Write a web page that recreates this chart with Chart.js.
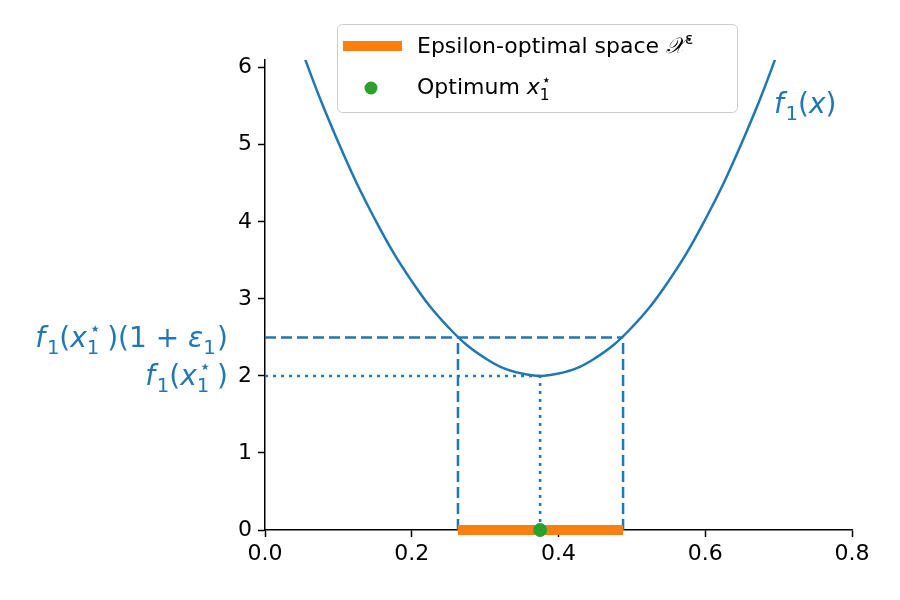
<!DOCTYPE html>
<html>
<head>
<meta charset="utf-8">
<script src="https://cdn.jsdelivr.net/npm/chart.js@4.4.0/dist/chart.umd.min.js"></script>
<style>
    body { margin: 0; background: #fff; }
    #wrap { width: 900px; height: 600px; }
</style>
</head>
<body>
<div id="wrap"><canvas id="epsChart" width="900" height="600"></canvas></div>
<script>
// values
const xTicks = [0, 0.2, 0.4, 0.6, 0.8];
const yTicks = [0, 1, 2, 3, 4, 5, 6];
const curveX = [0.05, 0.075, 0.1, 0.125, 0.15, 0.175, 0.2, 0.225, 0.25, 0.275, 0.3, 0.325, 0.35,
    0.375, 0.4, 0.425, 0.45, 0.475, 0.5, 0.525, 0.55, 0.575, 0.6, 0.625, 0.65, 0.675, 0.7];
const curveY = [6.23, 5.60, 5.03, 4.50, 4.03, 3.60, 3.23, 2.90, 2.63, 2.40, 2.23, 2.10, 2.03,
    2.00, 2.03, 2.10, 2.23, 2.40, 2.63, 2.90, 3.23, 3.60, 4.03, 4.50, 5.03, 5.60, 6.23];
const epsRange = [0.263, 0.488];
const optimum = [0.375, 2.0];
const epsLevel = 2.5;

const BLUE = '#1f77b4', ORANGE = '#ff7f0e', GREEN = '#2ca02c';
const FONT = '"DejaVu Sans", sans-serif';

function seg(points, dash) {
    return {
        type: 'line',
        data: points.map(p => ({ x: p[0], y: p[1] })),
        borderColor: BLUE,
        borderWidth: 2.5,
        borderDash: dash,
        pointRadius: 0,
        tension: 0
    };
}

function mathFont(it, size) {
    return (it ? 'italic ' : '') + size + 'px ' + FONT;
}

function partWidth(ctx, p, s) {
    let w;
    if (p.t !== undefined) {
        ctx.font = mathFont(p.it, s);
        w = ctx.measureText(p.t).width;
    } else {
        ctx.font = mathFont(false, s * 0.7);
        w = Math.max(p.sub ? ctx.measureText(p.sub).width : 0, p.sup ? ctx.measureText(p.sup).width : 0);
    }
    return w + (p.gap || 0) * s;
}

function drawMath(ctx, parts, x, y, align, s, color) {
    const total = parts.reduce((a, p) => a + partWidth(ctx, p, s), 0);
    let cx = align === 'right' ? x - total : x;
    const base = y + s * 0.33;
    ctx.save();
    ctx.fillStyle = color;
    ctx.textAlign = 'left';
    ctx.textBaseline = 'alphabetic';
    parts.forEach(p => {
        const w = partWidth(ctx, p, s);
        if (p.t !== undefined) {
            ctx.font = mathFont(p.it, s);
            ctx.fillText(p.t, cx, base);
        } else {
            ctx.font = mathFont(false, s * 0.7);
            if (p.sub) ctx.fillText(p.sub, cx, base + s * 0.25);
            if (p.sup) ctx.fillText(p.sup, cx + (p.supShift || 0) * s, base - s * 0.42);
        }
        cx += w;
    });
    ctx.restore();
}

const f1 = [{ t: 'f', it: true, gap: 0.06 }, { sub: '1' }];
const xStar = [{ t: 'x', it: true }, { sub: '1', sup: '⋆', supShift: 0.08, gap: 0.28 }];
const optLabel = [...f1, { t: '(' }, ...xStar, { t: ')' }];
const epsLabel = [...optLabel, { t: '(1 + ' }, { t: 'ε', it: true }, { sub: '1', gap: 0.05 }, { t: ')' }];
const curveLabel = [...f1, { t: '(' }, { t: 'x', it: true }, { t: ')' }];

const mathLabels = {
    id: 'mathLabels',
    afterDraw(chart) {
        const ctx = chart.ctx;
        const ys = chart.scales.y;
        drawMath(ctx, epsLabel, 228, ys.getPixelForValue(epsLevel), 'right', 28, BLUE);
        drawMath(ctx, optLabel, 228, ys.getPixelForValue(optimum[1]), 'right', 28, BLUE);
        drawMath(ctx, curveLabel, 774, 104, 'left', 28, BLUE);

        // legend box
        ctx.save();
        ctx.beginPath();
        ctx.roundRect(337.5, 24.5, 400, 88, 5);
        ctx.fillStyle = 'rgba(255,255,255,0.8)';
        ctx.fill();
        ctx.strokeStyle = '#cccccc';
        ctx.lineWidth = 1;
        ctx.stroke();
        ctx.beginPath();
        ctx.moveTo(343, 46);
        ctx.lineTo(402, 46);
        ctx.strokeStyle = ORANGE;
        ctx.lineWidth = 10;
        ctx.stroke();
        ctx.beginPath();
        ctx.arc(371, 88, 6.5, 0, Math.PI * 2);
        ctx.fillStyle = GREEN;
        ctx.fill();
        ctx.restore();
        drawMath(ctx, [{ t: 'Epsilon-optimal space ' }, { t: '𝒳', it: true }, { sup: 'ε' }], 417, 46, 'left', 22, '#000');
        drawMath(ctx, [{ t: 'Optimum ' }, ...xStar], 417, 87, 'left', 22, '#000');
    }
};

const ctx = document.getElementById('epsChart').getContext('2d');
const epsChart = new Chart(ctx, {
    data: {
        datasets: [
            {
                type: 'scatter',
                data: [{ x: optimum[0], y: 0 }],
                backgroundColor: GREEN,
                borderColor: GREEN,
                pointRadius: 6.5,
                clip: false
            },
            {
                type: 'line',
                data: epsRange.map(v => ({ x: v, y: 0 })),
                borderColor: ORANGE,
                borderWidth: 10,
                borderCapStyle: 'butt',
                pointRadius: 0,
                clip: false
            },
            {
                type: 'line',
                data: curveX.map((v, i) => ({ x: v, y: curveY[i] })),
                borderColor: BLUE,
                borderWidth: 2.5,
                pointRadius: 0,
                tension: 0.4
            },
            seg([[0, epsLevel], [epsRange[1], epsLevel]], [11, 5]),
            seg([[epsRange[0], 0], [epsRange[0], epsLevel]], [11, 5]),
            seg([[epsRange[1], 0], [epsRange[1], epsLevel]], [11, 5]),
            seg([[0, optimum[1]], [optimum[0], optimum[1]]], [3, 5]),
            seg([[optimum[0], 0], [optimum[0], optimum[1]]], [3, 5])
        ]
    },
    options: {
        responsive: false,
        animation: false,
        layout: { padding: { top: 60, right: 48, left: 0, bottom: 0 } },
        plugins: { legend: { display: false }, tooltip: { enabled: false } },
        scales: {
            x: {
                type: 'linear',
                min: 0,
                max: 0.8,
                afterBuildTicks: s => { s.ticks = xTicks.map(v => ({ value: v })); },
                afterFit: s => { s.height = 70; },
                ticks: {
                    color: '#000',
                    padding: 4,
                    maxRotation: 0,
                    font: { family: FONT, size: 22 },
                    callback: v => v.toFixed(1)
                },
                grid: { drawOnChartArea: false, drawTicks: true, tickLength: 7, tickWidth: 1.5, tickColor: '#000' },
                border: { color: '#000', width: 1.5 }
            },
            y: {
                min: 0,
                max: 6.1,
                afterBuildTicks: s => { s.ticks = yTicks.map(v => ({ value: v })); },
                afterFit: s => { s.width = 265; },
                ticks: {
                    color: '#000',
                    padding: 6,
                    font: { family: FONT, size: 22 },
                    callback: v => String(v)
                },
                grid: { drawOnChartArea: false, drawTicks: true, tickLength: 7, tickWidth: 1.5, tickColor: '#000' },
                border: { color: '#000', width: 1.5 }
            }
        }
    },
    plugins: [mathLabels]
});
</script>
</body>
</html>
